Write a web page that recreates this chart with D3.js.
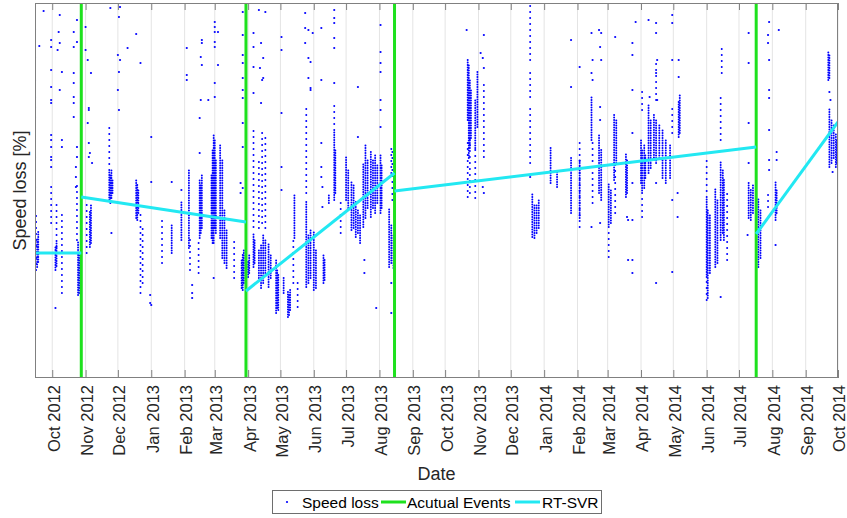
<!DOCTYPE html>
<html>
<head>
<meta charset="utf-8">
<script src="https://cdn.jsdelivr.net/npm/d3@7"></script>
<style>
  body { margin: 0; background: #fff; }
  svg { display: block; font-family: "Liberation Sans", Arial, Helvetica, sans-serif; }
</style>
</head>
<body>
<svg id="chart" width="847" height="518"></svg>
<script>
"use strict";

const DATE_RANGE = ["2012-09-15", "2014-10-01"];
const SPEED_LOSS_RANGE = [0, 37.5];

const MONTH_TICKS = [
    "2012-10-01", "2012-11-01", "2012-12-01", "2013-01-01", "2013-02-01", "2013-03-01",
    "2013-04-01", "2013-05-01", "2013-06-01", "2013-07-01", "2013-08-01", "2013-09-01",
    "2013-10-01", "2013-11-01", "2013-12-01", "2014-01-01", "2014-02-01", "2014-03-01",
    "2014-04-01", "2014-05-01", "2014-06-01", "2014-07-01", "2014-08-01", "2014-09-01",
    "2014-10-01"
];

const EVENT_DATES = ["2012-10-28", "2013-03-30", "2013-08-15", "2014-07-17"];

// RT-SVR piecewise fit, one segment between consecutive events
const SVR_SEGMENTS = [
    [["2012-09-15", 12.5], ["2012-10-28", 12.5]],
    [["2012-10-28", 18.1], ["2013-03-30", 15.6]],
    [["2013-03-30", 8.7], ["2013-08-15", 20.5]],
    [["2013-08-15", 18.7], ["2014-07-17", 23.1]],
    [["2014-07-17", 14.4], ["2014-10-01", 25.6]]
];

// daily speed-loss samples, densely packed: [date, low, high]
const DENSE_RUNS = [
    ["2012-09-17", 11.1, 14.1], ["2012-09-18", 11.6, 14.8], ["2012-10-04", 10.8, 13.1],
    ["2012-10-05", 11.2, 13.5], ["2012-10-25", 8.3, 13.8], ["2012-10-26", 8.5, 12.5],
    ["2012-10-27", 9.0, 12.0],
    ["2012-11-05", 13.1, 16.8], ["2012-11-06", 13.5, 17.5], ["2012-11-23", 17.8, 20.8],
    ["2012-11-24", 17.5, 20.5], ["2012-11-25", 18.0, 20.8], ["2012-11-26", 18.5, 20.0],
    ["2012-12-18", 16.0, 19.8], ["2012-12-19", 15.8, 19.5], ["2012-12-20", 16.5, 19.0],
    ["2013-01-20", 12.5, 15.5], ["2013-01-29", 13.8, 17.8], ["2013-02-05", 13.0, 20.8],
    ["2013-02-15", 14.0, 20.0], ["2013-02-16", 14.5, 19.5], ["2013-02-17", 15.0, 20.5],
    ["2013-02-26", 14.0, 20.5], ["2013-02-27", 13.5, 23.0], ["2013-02-28", 13.5, 24.5],
    ["2013-03-01", 15.0, 24.0], ["2013-03-02", 14.5, 22.0], ["2013-03-06", 14.0, 23.5],
    ["2013-03-08", 12.0, 22.0], ["2013-03-10", 11.5, 17.0], ["2013-03-12", 11.0, 15.0],
    ["2013-03-26", 9.0, 12.0], ["2013-03-27", 8.8, 12.5], ["2013-03-28", 9.5, 13.0],
    ["2013-04-01", 10.1, 11.8], ["2013-04-02", 10.5, 12.3], ["2013-04-06", 11.1, 14.5],
    ["2013-04-07", 11.5, 14.0], ["2013-04-11", 10.0, 13.0], ["2013-04-13", 9.0, 13.5],
    ["2013-04-15", 9.5, 14.5], ["2013-04-17", 10.5, 14.0], ["2013-04-20", 9.1, 13.5],
    ["2013-04-22", 10.0, 12.5], ["2013-04-27", 6.5, 12.0], ["2013-04-28", 7.0, 11.0],
    ["2013-04-29", 6.8, 10.5], ["2013-05-04", 8.5, 10.1], ["2013-05-08", 6.1, 8.8],
    ["2013-05-09", 6.3, 8.5], ["2013-05-10", 6.8, 9.0], ["2013-05-14", 14.0, 18.5],
    ["2013-05-25", 9.1, 17.8], ["2013-05-27", 9.5, 14.5], ["2013-05-29", 10.0, 15.0],
    ["2013-06-01", 8.8, 14.8], ["2013-06-03", 9.0, 13.0], ["2013-06-10", 9.5, 12.5],
    ["2013-06-11", 9.8, 12.0], ["2013-06-15", 17.5, 18.5], ["2013-06-20", 17.8, 24.8],
    ["2013-06-21", 18.5, 23.0], ["2013-07-01", 17.8, 22.1], ["2013-07-03", 17.0, 21.0],
    ["2013-07-06", 14.8, 19.8], ["2013-07-08", 15.0, 19.5], ["2013-07-10", 14.1, 17.8],
    ["2013-07-12", 14.5, 17.0], ["2013-07-14", 13.5, 16.5], ["2013-07-17", 15.1, 21.5],
    ["2013-07-19", 16.0, 23.5], ["2013-07-21", 17.0, 22.0], ["2013-07-24", 16.1, 22.8],
    ["2013-07-26", 17.0, 22.0], ["2013-07-28", 16.5, 22.5], ["2013-07-30", 17.5, 21.5],
    ["2013-08-02", 16.5, 22.5], ["2013-08-03", 17.0, 21.5], ["2013-08-10", 11.1, 17.1],
    ["2013-08-12", 11.5, 15.5], ["2013-08-14", 11.0, 14.5],
    ["2013-10-22", 25.8, 32.0], ["2013-10-23", 22.0, 31.5], ["2013-10-24", 23.0, 30.0],
    ["2013-10-25", 24.0, 29.0], ["2013-10-29", 23.0, 28.0], ["2013-10-31", 25.1, 30.8],
    ["2013-12-21", 14.1, 18.5], ["2013-12-23", 14.0, 17.5], ["2013-12-25", 14.5, 17.5],
    ["2013-12-27", 15.0, 18.0], ["2014-01-07", 19.5, 23.1], ["2014-01-13", 19.1, 20.8],
    ["2014-01-26", 16.5, 22.1], ["2014-02-03", 16.0, 22.0], ["2014-02-14", 23.8, 28.1],
    ["2014-02-21", 18.5, 24.5], ["2014-02-23", 17.8, 23.0], ["2014-03-02", 15.1, 19.5],
    ["2014-03-04", 15.5, 19.0], ["2014-03-07", 19.8, 26.5], ["2014-03-09", 21.5, 26.0],
    ["2014-03-18", 18.1, 22.5], ["2014-03-19", 18.5, 22.0], ["2014-04-01", 19.5, 23.8],
    ["2014-04-02", 18.5, 23.0], ["2014-04-04", 19.0, 23.5], ["2014-04-05", 20.0, 22.5],
    ["2014-04-08", 20.5, 27.5], ["2014-04-10", 21.0, 26.0], ["2014-04-13", 21.8, 26.5],
    ["2014-04-15", 21.5, 26.0], ["2014-04-18", 22.0, 25.5], ["2014-04-21", 20.0, 24.8],
    ["2014-04-24", 19.5, 24.0], ["2014-04-28", 20.0, 23.5], ["2014-05-06", 24.1, 27.8],
    ["2014-05-07", 24.5, 28.5], ["2014-06-01", 10.1, 18.1], ["2014-06-02", 8.0, 17.0],
    ["2014-06-04", 10.5, 16.5], ["2014-06-09", 11.1, 19.1], ["2014-06-11", 11.5, 18.0],
    ["2014-06-14", 13.8, 21.8], ["2014-06-16", 14.5, 21.0], ["2014-06-17", 13.8, 20.0],
    ["2014-07-10", 16.0, 19.6], ["2014-07-12", 15.8, 19.0], ["2014-07-14", 16.5, 19.5],
    ["2014-07-19", 11.1, 18.1], ["2014-07-21", 12.0, 17.0], ["2014-08-04", 15.8, 19.8],
    ["2014-08-05", 16.5, 19.0], ["2014-09-22", 29.8, 32.8], ["2014-09-23", 30.0, 32.5],
    ["2014-09-23", 21.1, 27.1], ["2014-09-25", 21.5, 26.0], ["2014-09-27", 22.0, 25.5],
    ["2014-09-29", 21.1, 24.5], ["2014-09-30", 21.5, 24.0]
];

// loosely spaced samples: [date, low, high]
const SPARSE_RUNS = [
    ["2012-09-16", 10.8, 16.5], ["2012-09-30", 15.5, 19.5], ["2012-10-05", 13.1, 17.8],
    ["2012-10-10", 8.5, 16.6], ["2012-10-24", 13.8, 19.8], ["2012-11-02", 12.5, 17.8],
    ["2012-11-23", 20.8, 25.1], ["2012-12-22", 8.5, 16.5], ["2012-12-24", 9.5, 15.0],
    ["2013-01-11", 11.5, 15.8], ["2013-02-06", 10.8, 14.0], ["2013-02-14", 10.5, 14.0],
    ["2013-03-19", 10.0, 14.1], ["2013-04-06", 15.1, 25.1], ["2013-04-11", 15.0, 22.0],
    ["2013-04-14", 15.5, 25.0], ["2013-04-17", 15.0, 24.5], ["2013-05-13", 9.5, 14.0],
    ["2013-05-17", 7.1, 9.8], ["2013-05-25", 18.5, 27.0], ["2013-06-20", 24.8, 27.8],
    ["2013-06-26", 14.5, 17.8], ["2013-08-12", 20.5, 23.1], ["2013-08-13", 17.8, 23.1],
    ["2013-10-22", 18.1, 23.8], ["2013-10-24", 18.5, 24.5], ["2013-10-29", 18.0, 23.0],
    ["2013-11-06", 22.1, 29.5], ["2013-12-19", 31.8, 37.6], ["2013-12-19", 28.1, 30.8],
    ["2013-12-19", 21.5, 27.0], ["2014-02-03", 15.1, 23.8], ["2014-02-15", 17.5, 23.8],
    ["2014-03-02", 12.1, 15.1], ["2014-03-08", 16.5, 21.5], ["2014-04-02", 26.8, 29.1],
    ["2014-04-02", 16.1, 18.5], ["2014-04-15", 27.8, 31.8], ["2014-04-30", 24.5, 27.5],
    ["2014-06-01", 18.1, 21.8], ["2014-06-01", 7.8, 10.1], ["2014-06-15", 30.5, 33.5],
    ["2014-06-14", 23.8, 28.5], ["2014-06-20", 11.8, 18.8], ["2014-07-28", 17.1, 18.8]
];

// isolated samples: [date, speed loss]
const SINGLE_POINTS = [
    ["2012-09-15", 34.9], ["2012-09-15", 32.1], ["2012-09-15", 29.8], ["2012-09-15", 28.1],
    ["2012-09-15", 27.1], ["2012-09-15", 26.1], ["2012-09-15", 22.1], ["2012-09-15", 20.8],
    ["2012-09-15", 19.1], ["2012-09-23", 36.7], ["2012-09-19", 33.2],
    ["2012-09-30", 33.8], ["2012-09-30", 33.1], ["2012-09-30", 30.8], ["2012-09-30", 29.1],
    ["2012-09-30", 27.8], ["2012-09-30", 27.5], ["2012-09-30", 24.3], ["2012-09-30", 23.8],
    ["2012-09-30", 23.1], ["2012-09-30", 22.1], ["2012-09-30", 21.8], ["2012-09-30", 21.1],
    ["2012-10-08", 36.3], ["2012-10-07", 34.6], ["2012-10-08", 33.5], ["2012-10-06", 32.8],
    ["2012-10-10", 30.6], ["2012-10-08", 28.8], ["2012-10-10", 23.8], ["2012-10-10", 23.1],
    ["2012-10-04", 7.0],
    ["2012-10-24", 35.8], ["2012-10-24", 33.6], ["2012-10-24", 23.1], ["2012-10-24", 22.1],
    ["2012-10-21", 34.6], ["2012-10-21", 33.1], ["2012-10-21", 30.5], ["2012-10-21", 29.5],
    ["2012-10-21", 28.1], ["2012-10-21", 27.5], ["2012-10-21", 26.1],
    ["2012-10-23", 21.1], ["2012-10-23", 20.1], ["2012-10-23", 19.1],
    ["2012-11-01", 35.1], ["2012-11-01", 32.8], ["2012-11-03", 31.8], ["2012-11-06", 30.5],
    ["2012-11-04", 27.0], ["2012-11-04", 26.8], ["2012-11-03", 25.5], ["2012-11-04", 23.5],
    ["2012-11-05", 22.5], ["2012-11-04", 22.1], ["2012-11-07", 21.5],
    ["2012-11-25", 14.5], ["2012-11-24", 37.6], ["2012-11-24", 37.0],
    ["2012-12-03", 37.1], ["2012-12-02", 36.1], ["2012-12-01", 32.3], ["2012-12-03", 31.8],
    ["2012-12-02", 30.6], ["2012-12-01", 28.8], ["2012-12-02", 26.8],
    ["2012-12-10", 33.0], ["2012-12-18", 34.4], ["2012-12-22", 31.5],
    ["2012-12-31", 8.3], ["2012-12-31", 7.5], ["2013-01-01", 7.3],
    ["2013-01-01", 24.1], ["2013-01-01", 19.6], ["2013-01-20", 19.6], ["2013-01-29", 18.8],
    ["2013-02-08", 9.3], ["2013-02-08", 8.5], ["2013-02-08", 8.0],
    ["2013-02-03", 33.0], ["2013-02-03", 30.3], ["2013-02-03", 29.8],
    ["2013-02-17", 33.8], ["2013-02-17", 33.5], ["2013-02-16", 32.1], ["2013-02-17", 31.3],
    ["2013-02-16", 27.8], ["2013-02-15", 26.0], ["2013-02-15", 22.5], ["2013-02-23", 27.8],
    ["2013-03-01", 35.6], ["2013-03-01", 35.1], ["2013-03-01", 34.6], ["2013-03-01", 33.6],
    ["2013-03-01", 33.1], ["2013-03-01", 29.5], ["2013-03-01", 28.1], ["2013-03-04", 34.6],
    ["2013-03-04", 31.3], ["2013-02-28", 10.0],
    ["2013-03-27", 36.6], ["2013-03-27", 34.3], ["2013-03-27", 32.3], ["2013-03-27", 31.5],
    ["2013-03-27", 30.0], ["2013-03-27", 28.8], ["2013-03-27", 28.0], ["2013-03-27", 25.5],
    ["2013-03-27", 23.1], ["2013-03-27", 19.0], ["2013-03-25", 19.5], ["2013-03-25", 18.5],
    ["2013-04-06", 34.5], ["2013-04-06", 33.1], ["2013-04-06", 31.1], ["2013-04-06", 28.5],
    ["2013-04-11", 36.8], ["2013-04-17", 36.6], ["2013-04-13", 33.5], ["2013-04-15", 32.0],
    ["2013-04-12", 31.0], ["2013-04-15", 30.0], ["2013-04-14", 29.8], ["2013-04-13", 27.5],
    ["2013-05-02", 34.1], ["2013-05-02", 32.8], ["2013-05-02", 26.5], ["2013-05-02", 21.1],
    ["2013-05-02", 18.8],
    ["2013-05-24", 36.5], ["2013-05-24", 35.0], ["2013-05-24", 33.5], ["2013-05-27", 34.8],
    ["2013-05-27", 32.0], ["2013-05-27", 30.0], ["2013-05-29", 31.6], ["2013-05-29", 29.0],
    ["2013-05-29", 28.8], ["2013-05-31", 34.5],
    ["2013-06-08", 35.0], ["2013-06-08", 29.8], ["2013-06-08", 23.5], ["2013-06-08", 21.1],
    ["2013-06-08", 20.1], ["2013-06-09", 19.1], ["2013-06-09", 17.1],
    ["2013-06-20", 36.8], ["2013-06-20", 36.0], ["2013-06-20", 35.5], ["2013-06-20", 34.0],
    ["2013-06-20", 33.0], ["2013-06-20", 29.5],
    ["2013-07-12", 29.1], ["2013-07-12", 24.1], ["2013-07-18", 11.8], ["2013-07-18", 10.5],
    ["2013-07-29", 7.0],
    ["2013-08-02", 35.3], ["2013-08-02", 32.6], ["2013-08-02", 31.5], ["2013-08-02", 30.6],
    ["2013-08-02", 27.8], ["2013-08-02", 26.8], ["2013-08-02", 25.1],
    ["2013-08-12", 9.5], ["2013-08-12", 6.5],
    ["2013-10-21", 34.8], ["2013-11-06", 34.3], ["2013-11-05", 32.0], ["2013-11-06", 31.0],
    ["2013-11-03", 32.5], ["2013-11-05", 19.1], ["2013-11-06", 18.5], ["2013-12-19", 20.1],
    ["2014-01-26", 33.8], ["2014-01-26", 29.1], ["2014-02-03", 31.1],
    ["2014-02-14", 34.5], ["2014-02-15", 31.8], ["2014-02-14", 30.5], ["2014-02-15", 29.8],
    ["2014-02-14", 15.1],
    ["2014-02-21", 34.8], ["2014-02-23", 34.5], ["2014-02-22", 33.1], ["2014-02-23", 31.8],
    ["2014-02-22", 27.1], ["2014-02-22", 25.8], ["2014-02-22", 15.5],
    ["2014-03-08", 34.1], ["2014-03-20", 15.8], ["2014-03-20", 11.8], ["2014-03-19", 16.1],
    ["2014-03-24", 33.5], ["2014-03-24", 32.3], ["2014-03-24", 28.8], ["2014-03-24", 24.5],
    ["2014-03-24", 19.5], ["2014-03-24", 15.8], ["2014-03-24", 11.8], ["2014-03-24", 10.5],
    ["2014-03-27", 35.6], ["2014-04-08", 35.8], ["2014-04-09", 28.1],
    ["2014-04-15", 35.5], ["2014-04-15", 34.5], ["2014-04-16", 31.8], ["2014-04-15", 30.5],
    ["2014-04-16", 27.8], ["2014-04-15", 19.5], ["2014-04-15", 9.5],
    ["2014-04-30", 36.3], ["2014-04-30", 35.5], ["2014-04-30", 31.8], ["2014-04-30", 17.8],
    ["2014-04-30", 10.6],
    ["2014-05-06", 31.8], ["2014-05-06", 30.1], ["2014-05-05", 16.1], ["2014-05-05", 18.5],
    ["2014-06-14", 8.1],
    ["2014-07-10", 34.5], ["2014-07-10", 31.5], ["2014-07-10", 25.5], ["2014-07-10", 21.5],
    ["2014-07-09", 14.3],
    ["2014-07-29", 35.6], ["2014-07-28", 34.3], ["2014-07-28", 33.5], ["2014-07-29", 31.8],
    ["2014-07-29", 28.8], ["2014-07-29", 28.0], ["2014-07-29", 24.8], ["2014-07-29", 21.8],
    ["2014-07-29", 20.8],
    ["2014-08-07", 34.8], ["2014-08-05", 22.6], ["2014-08-05", 21.8], ["2014-08-04", 13.3],
    ["2014-09-23", 28.6], ["2014-09-24", 27.8], ["2014-09-26", 20.6]
];

const LEGEND_LABELS = ["Speed loss", "Acutual Events", "RT-SVR"];
const X_LABEL = "Date";
const Y_LABEL = "Speed loss [%]";

const BLUE = "#0000ff";
const GREEN = "#1ee11e";
const CYAN = "#22e8f2";
const AXIS_GREY = "#808080";
const TEXT_COLOR = "#262626";

const WIDTH = 847;
const MARGIN = { top: 3, right: 9, bottom: 140, left: 35 };
const PLOT_BOTTOM = 378;
const PLOT_RIGHT = WIDTH - MARGIN.right;

const parseDate = d3.timeParse("%Y-%m-%d");

const x = d3.scaleTime().domain(DATE_RANGE.map(parseDate)).range([MARGIN.left, PLOT_RIGHT]);
const y = d3.scaleLinear().domain(SPEED_LOSS_RANGE).range([PLOT_BOTTOM, MARGIN.top]);

const svg = d3.select("#chart");

svg.append("defs").append("clipPath").attr("id", "plot-clip")
    .append("rect")
    .attr("x", MARGIN.left).attr("y", MARGIN.top)
    .attr("width", PLOT_RIGHT - MARGIN.left).attr("height", PLOT_BOTTOM - MARGIN.top);

const tickDates = MONTH_TICKS.map(parseDate);

// vertical grid
svg.append("g").selectAll("line").data(tickDates).join("line")
    .attr("x1", d => x(d)).attr("x2", d => x(d))
    .attr("y1", MARGIN.top).attr("y2", PLOT_BOTTOM)
    .attr("stroke", "#e4e4e4").attr("stroke-width", 1);

const plot = svg.append("g").attr("clip-path", "url(#plot-clip)");

// speed loss samples
function drawRuns(runs, dashArray) {
    plot.append("g").selectAll("line").data(runs).join("line")
        .attr("x1", d => x(parseDate(d[0]))).attr("x2", d => x(parseDate(d[0])))
        .attr("y1", d => y(d[1])).attr("y2", d => y(d[2]))
        .attr("stroke", BLUE).attr("stroke-width", 2)
        .attr("stroke-linecap", "round")
        .attr("stroke-dasharray", dashArray);
}
drawRuns(DENSE_RUNS, "0 2.5");
drawRuns(SPARSE_RUNS, "0 6");

plot.append("g").selectAll("circle").data(SINGLE_POINTS).join("circle")
    .attr("cx", d => x(parseDate(d[0]))).attr("cy", d => y(d[1]))
    .attr("r", 1.1).attr("fill", BLUE);

// actual events
plot.append("g").selectAll("line").data(EVENT_DATES.map(parseDate)).join("line")
    .attr("x1", d => x(d)).attr("x2", d => x(d))
    .attr("y1", MARGIN.top).attr("y2", PLOT_BOTTOM)
    .attr("stroke", GREEN).attr("stroke-width", 3);

// RT-SVR
const svrLine = d3.line().x(d => x(parseDate(d[0]))).y(d => y(d[1]));
plot.append("g").selectAll("path").data(SVR_SEGMENTS).join("path")
    .attr("d", svrLine)
    .attr("fill", "none").attr("stroke", CYAN).attr("stroke-width", 3);

// axes box and ticks
svg.append("rect")
    .attr("x", MARGIN.left + 0.5).attr("y", MARGIN.top + 0.5)
    .attr("width", PLOT_RIGHT - MARGIN.left - 1).attr("height", PLOT_BOTTOM - MARGIN.top - 1)
    .attr("fill", "none").attr("stroke", AXIS_GREY);

const xAxis = d3.axisBottom(x).tickValues(tickDates).tickSizeInner(-8).tickSizeOuter(0)
    .tickFormat(d3.timeFormat("%b %Y"));
const xAxisGroup = svg.append("g").attr("transform", `translate(0,${PLOT_BOTTOM})`).call(xAxis);
xAxisGroup.select(".domain").remove();
xAxisGroup.selectAll(".tick line").attr("stroke", AXIS_GREY);
xAxisGroup.selectAll(".tick text")
    .attr("y", 0).attr("x", 0).attr("dy", "0.42em")
    .attr("transform", "translate(0,7) rotate(-90)")
    .attr("text-anchor", "end")
    .attr("fill", TEXT_COLOR)
    .style("font-size", "16.5px")
    .style("font-family", "'Liberation Sans', Arial, Helvetica, sans-serif");

const xAxisTop = d3.axisTop(x).tickValues(tickDates).tickSizeInner(-7).tickSizeOuter(0).tickFormat("");
const topGroup = svg.append("g").attr("transform", `translate(0,${MARGIN.top})`).call(xAxisTop);
topGroup.select(".domain").remove();
topGroup.selectAll(".tick line").attr("stroke", AXIS_GREY);

svg.append("text")
    .attr("x", (MARGIN.left + PLOT_RIGHT) / 2).attr("y", 480)
    .attr("text-anchor", "middle")
    .attr("fill", TEXT_COLOR).style("font-size", "18px")
    .text(X_LABEL);

svg.append("text")
    .attr("transform", `translate(26,${(MARGIN.top + PLOT_BOTTOM) / 2}) rotate(-90)`)
    .attr("text-anchor", "middle")
    .attr("fill", TEXT_COLOR).style("font-size", "18px")
    .text(Y_LABEL);

// legend
const legend = svg.append("g");
legend.append("rect")
    .attr("x", 272.5).attr("y", 490.5).attr("width", 329).attr("height", 23)
    .attr("fill", "#fff").attr("stroke", "#6e6e6e");

const legendY = 502;
legend.append("circle").attr("cx", 287).attr("cy", legendY).attr("r", 1.1).attr("fill", BLUE);
legend.append("line").attr("x1", 381).attr("x2", 406).attr("y1", legendY).attr("y2", legendY)
    .attr("stroke", GREEN).attr("stroke-width", 3);
legend.append("line").attr("x1", 515).attr("x2", 540).attr("y1", legendY).attr("y2", legendY)
    .attr("stroke", CYAN).attr("stroke-width", 3);

const legendTextX = [302, 407, 542];
legend.selectAll("text").data(LEGEND_LABELS).join("text")
    .attr("x", (d, i) => legendTextX[i]).attr("y", 507.5)
    .attr("fill", "#000").style("font-size", "15.5px")
    .text(d => d);
</script>
</body>
</html>
